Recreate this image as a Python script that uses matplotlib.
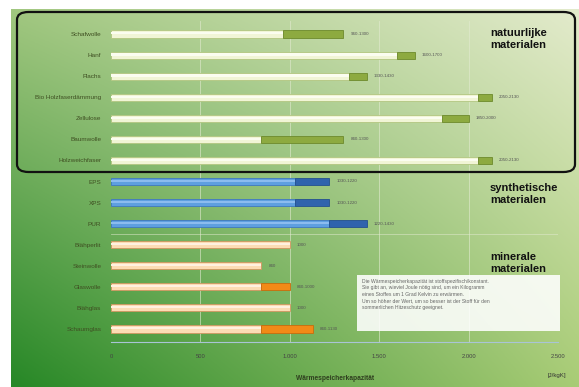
import numpy as np
import matplotlib.pyplot as plt
from matplotlib.patches import FancyBboxPatch

plt.rcParams['font.family'] = ['Liberation Sans', 'DejaVu Sans']

# Data: heat storage capacity in J/kgK (min / max of range)
materials = ["Schafwolle", "Hanf", "Flachs", "Bio Holzfaserdämmung", "Zellulose",
             "Baumwolle", "Holzweichfaser", "EPS", "XPS", "PUR",
             "Blähperlit", "Steinwolle", "Glaswolle", "Blähglas", "Schaumglas"]
min_vals = [960, 1600, 1330, 2050, 1850, 840, 2050, 1030, 1030, 1220,
            1000, 840, 840, 1000, 840]
max_vals = [1300, 1700, 1430, 2130, 2000, 1300, 2130, 1220, 1220, 1430,
            1000, 840, 1000, 1000, 1130]
value_labels = ["960-1300", "1600-1700", "1330-1430", "2050-2130", "1850-2000",
                "840-1300", "2050-2130", "1030-1220", "1030-1220", "1220-1430",
                "1000", "840", "840-1000", "1000", "840-1130"]
groups = ["nat"] * 7 + ["syn"] * 3 + ["min"] * 5
ticks = [0, 500, 1000, 1500, 2000, 2500]
tick_labels = ["0", "500", "1.000", "1.500", "2.000", "2.500"]

light_col = {"nat": "#f1f5d6", "syn": "#5e9fe0", "min": "#fcdcb4"}
light_edge = {"nat": "#b2c680", "syn": "#3f78c0", "min": "#d09660"}
hilite = {"nat": "#fbfdf0", "syn": "#8cbcef", "min": "#fff1e0"}
dark_col = {"nat": "#8daa40", "syn": "#2f63ad", "min": "#f28a17"}
dark_edge = {"nat": "#6d8a2c", "syn": "#23508f", "min": "#c86c0c"}

fig = plt.figure(figsize=(5.79, 3.87), dpi=100)

# green gradient background
bg = fig.add_axes([11 / 579, 0, 1 - 11 / 579, 1 - 9 / 387], zorder=0)
u = np.linspace(0, 1, 300)[None, :, None]
v = np.linspace(1, 0, 200)[:, None, None]
bl = np.array([0.15, 0.53, 0.15])
br = np.array([0.66, 0.80, 0.46])
tl = np.array([0.63, 0.78, 0.50])
tr = np.array([0.89, 0.92, 0.80])
img = (bl * (1 - u) * (1 - v) + br * u * (1 - v) + tl * (1 - u) * v + tr * u * v)
bg.imshow(img, aspect="auto", extent=[0, 1, 0, 1])
bg.axis("off")

ax = fig.add_axes([111 / 579, 1 - 341.6 / 387, 447 / 579, 320.2 / 387], zorder=1)
ax.patch.set_alpha(0)

y = np.arange(len(materials))
for i in y:
    g = groups[i]
    ax.barh(i, min_vals[i], height=0.34, color=light_col[g],
            edgecolor=light_edge[g], linewidth=0.6, zorder=3)
    ax.barh(i - 0.03, min_vals[i], height=0.1, color=hilite[g],
            linewidth=0, zorder=3.5)
    if max_vals[i] > min_vals[i]:
        ax.barh(i, max_vals[i] - min_vals[i], left=min_vals[i], height=0.34,
                color=dark_col[g], edgecolor=dark_edge[g], linewidth=0.6, zorder=3)
    ax.text(max_vals[i] + 40, i, value_labels[i], va="center", ha="left",
            fontsize=3.2, color="#555555", zorder=4)

ax.set_xlim(0, 2500)
ax.set_ylim(14.6, -0.6)
ax.set_yticks(y)
ax.set_yticklabels(materials, fontsize=4.6, color="#3f4f22")
ax.set_xticks(ticks)
ax.set_xticklabels(tick_labels, fontsize=4.2, color="#444444")
ax.tick_params(length=0, pad=7)
ax.tick_params(axis="x", pad=9)
for s in ["top", "right", "left"]:
    ax.spines[s].set_visible(False)
ax.spines["bottom"].set_color("#a9c4d6")
ax.spines["bottom"].set_linewidth(0.8)
for t in ticks[1:]:
    ax.axvline(t, color="#e2ead0", linewidth=0.6, alpha=0.7, zorder=1)
for yy in [6.5, 9.5]:
    ax.axhline(yy, color="#e2ead0", linewidth=0.6, alpha=0.6, zorder=1)

fig.text(335 / 579, 1 - 378 / 387, "Wärmespeicherkapazität", ha="center", va="center",
         fontsize=4.8, fontweight="bold", color="#2f3f1f", zorder=5)
fig.text(557 / 579, 1 - 376 / 387, "[J/kgK]", ha="center", va="center",
         fontsize=4.4, color="#333333", zorder=5)

# group labels
fig.text(490 / 579, 1 - 28 / 387, "natuurlijke\nmaterialen", ha="left", va="top",
         fontsize=8, fontweight="bold", color="#111111", linespacing=1.2, zorder=5)
fig.text(490 / 579, 1 - 183 / 387, "synthetische\nmaterialen", ha="left", va="top",
         fontsize=8, fontweight="bold", color="#111111", linespacing=1.2, zorder=5)
fig.text(490 / 579, 1 - 252 / 387, "minerale\nmaterialen", ha="left", va="top",
         fontsize=8, fontweight="bold", color="#111111", linespacing=1.2, zorder=5)

# rounded frame around natural materials
frame = FancyBboxPatch((17 / 579, 1 - 172 / 387), 558 / 579, 160 / 387,
                       boxstyle="round,pad=0,rounding_size=0.02",
                       transform=fig.transFigure, fill=False,
                       edgecolor="#111111", linewidth=1.6, zorder=6)
fig.patches.append(frame)

# info box
info = ("Die Wärmespeicherkapazität ist stoffspezifisch/konstant.\n"
        "Sie gibt an, wieviel Joule nötig sind, um ein Kilogramm\n"
        "eines Stoffes um 1 Grad Kelvin zu erwärmen.\n"
        "Um so höher der Wert, um so besser ist der Stoff für den\n"
        "sommerlichen Hitzeschutz geeignet.")
box = FancyBboxPatch((357 / 579, 1 - 331 / 387), 203 / 579, 56 / 387,
                     boxstyle="square,pad=0", transform=fig.transFigure,
                     facecolor="white", edgecolor="none", alpha=0.88, zorder=6)
fig.patches.append(box)
fig.text(362 / 579, 1 - 279 / 387, info, ha="left", va="top", fontsize=3.6,
         color="#666666", linespacing=1.35, zorder=7)

fig.savefig("out.png", dpi=100)
